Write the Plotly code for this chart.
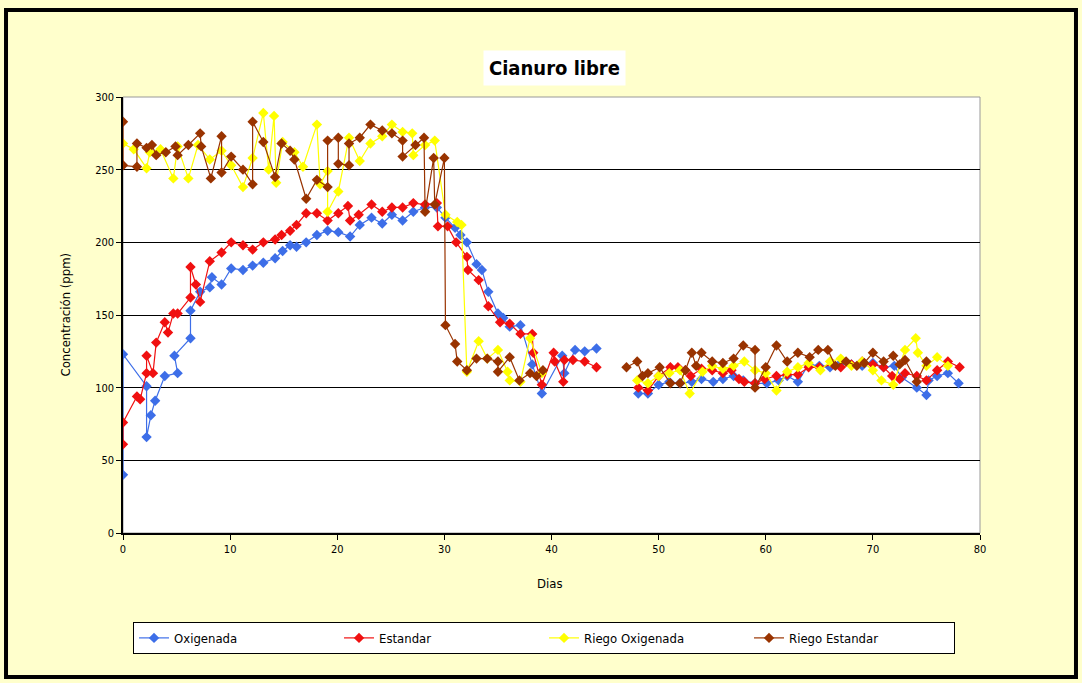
import plotly.graph_objects as go

# Oxigenada (blue)
ox_dias = [0, 0, 2.2, 2.2, 2.6, 3.0, 3.9, 5.1, 4.8, 6.3, 6.3, 7.2, 8.1, 8.3, 9.2, 10.1, 11.2, 12.1, 13.1, 14.2,
           14.9, 15.6, 16.2, 17.1, 18.1, 19.1, 20.1, 21.2, 22.1, 23.2, 24.2, 25.1, 26.1, 27.1, 28.2, 29.3, 30.1, 31.0, 31.5, 32.1,
           33.0, 33.5, 34.1, 35.0, 35.5, 36.1, 37.1, 38.2, 39.1, 41.0, 41.2, 42.2, 43.1, 44.2, None,
           48.1, 49.0, 50.0, 51.0, 52.0, 53.1, 54.0, 55.1, 56.0, 57.0, 57.9, 59.0, 60.1, 61.2, 62.0, 63.0, 64.0, 65.0, 66.0, 67.0,
           68.0, 69.0, 70.0, 71.0, 72.0, 72.7, 74.1, 75.0, 75.2, 76.0, 77.0, 78.0]
ox_ppm = [40, 123, 101, 66, 81, 91, 108, 110, 122, 134, 153, 166, 169, 176, 171, 182, 181, 184, 186, 189,
          194, 198, 197, 200, 205, 208, 207, 204, 212, 217, 213, 219, 215, 221, 224, 224, 217, 210, 205, 200,
          185, 181, 166, 151, 148, 142, 143, 116, 96, 122, 110, 126, 125, 127, None,
          96, 96, 102, 104, 103, 104, 106, 104, 106, 108, 105, 103, 103, 105, 108, 104, 116, 115, 114, 117,
          116, 115, 117, 114, 115, 107, 100, 95, 105, 108, 110, 103]

# Estandar (red)
est_dias = [0, 0, 1.3, 1.6, 2.2, 2.2, 2.8, 3.1, 3.9, 4.2, 4.7, 5.1, 6.3, 6.3, 6.8, 7.2, 8.1, 9.2, 10.1, 11.2,
            12.1, 13.1, 14.2, 14.8, 15.6, 16.2, 17.1, 18.1, 19.1, 20.1, 21.0, 21.2, 22.0, 23.2, 24.2, 25.1, 26.1, 27.1, 28.2, 29.3,
            29.4, 30.3, 31.1, 32.1, 32.2, 33.2, 34.1, 35.2, 36.1, 37.1, 38.2, 38.3, 39.1, 40.2, 40.3, 41.1, 41.2, 42.0, 43.1, 44.2, None,
            48.1, 49.0, 50.0, 51.1, 51.8, 52.5, 53.0, 54.0, 55.0, 56.0, 56.8, 57.5, 58.0, 59.0, 59.9, 61.0, 62.0, 63.0, 64.0, 65.0,
            66.3, 67.0, 68.0, 69.0, 70.0, 71.0, 71.8, 72.5, 73.0, 74.1, 75.0, 76.0, 77.0, 78.1]
est_ppm = [61, 76, 94, 92, 110, 122, 110, 131, 145, 138, 151, 151, 162, 183, 171, 159, 187, 193, 200, 198,
           195, 200, 202, 205, 208, 212, 220, 220, 215, 220, 225, 215, 219, 226, 221, 224, 224, 227, 226, 227,
           211, 211, 200, 190, 181, 174, 156, 145, 144, 137, 137, 124, 102, 124, 118, 104, 119, 119, 118, 114, None,
           100, 98, 108, 114, 114, 112, 108, 113, 112, 110, 112, 106, 104, 103, 106, 108, 109, 109, 114, 114,
           116, 114, 116, 118, 116, 114, 108, 106, 110, 108, 105, 112, 118, 114]

# Riego Oxigenada (yellow)
rox_dias = [0, 1.0, 2.2, 2.5, 3.5, 4.7, 5.1, 6.1, 7.0, 8.1, 9.2, 10.1, 11.2, 12.1, 13.1, 13.6, 14.1, 14.3, 14.9, 16.0,
            16.8, 18.1, 18.4, 19.1, 19.1, 20.1, 21.1, 22.1, 23.1, 24.2, 25.1, 26.1, 27.0, 27.1, 28.2, 29.1, 30.1, 31.2, 31.6, 32.1,
            33.2, 34.0, 35.0, 35.9, 36.1, 37.1, 38.0, 39.1, None,
            48.0, 49.0, 50.0, 51.0, 52.0, 52.9, 54.1, 55.0, 56.0, 57.0, 58.0, 59.0, 60.0, 61.0, 62.0, 63.0, 64.0, 65.1, 66.0, 67.0,
            68.0, 69.0, 70.0, 70.8, 71.9, 73.0, 74.0, 74.2, 75.0, 76.0, 77.0]
rox_ppm = [268, 264, 251, 262, 264, 244, 266, 244, 267, 257, 263, 253, 238, 258, 289, 250, 287, 241, 269, 262,
           252, 281, 240, 249, 221, 235, 272, 256, 268, 273, 281, 276, 275, 260, 267, 270, 219, 214, 212, 111,
           132, 120, 126, 111, 105, 104, 134, 110, None,
           105, 103, 108, 110, 112, 96, 111, 115, 113, 115, 118, 112, 110, 98, 111, 114, 117, 112, 118, 120,
           115, 118, 112, 105, 102, 126, 134, 124, 115, 121, 115]

# Riego Estandar (brown)
rest_dias = [0, 0, 1.3, 1.3, 2.2, 2.7, 3.1, 4.0, 4.9, 5.1, 6.1, 7.2, 7.3, 8.2, 9.2, 9.2, 10.1, 11.2, 12.1, 12.1,
             13.1, 14.2, 14.8, 15.6, 16.0, 17.1, 18.1, 19.1, 19.1, 20.1, 20.1, 21.1, 21.1, 22.1, 23.1, 24.2, 25.1, 26.1, 26.1, 27.3,
             28.1, 28.2, 29.0, 29.1, 30.0, 30.1, 31.0, 31.2, 32.1, 33.0, 34.0, 35.0, 35.0, 36.1, 37.0, 38.0, 38.6, 39.2, None,
             47.0, 48.0, 48.5, 49.0, 50.1, 51.1, 52.0, 52.5, 53.1, 53.5, 54.0, 55.0, 56.0, 57.0, 57.9, 59.0, 59.0, 60.0, 61.0, 62.0,
             63.0, 64.1, 64.9, 65.8, 66.5, 67.5, 68.5, 69.2, 70.0, 71.0, 71.9, 72.5, 73.0, 74.1, 75.0]
rest_ppm = [283, 253, 252, 268, 265, 267, 260, 262, 266, 260, 267, 275, 266, 244, 273, 248, 259, 250, 240, 283,
            269, 245, 268, 263, 257, 230, 243, 238, 270, 272, 254, 253, 268, 272, 281, 277, 275, 270, 259, 267,
            272, 221, 258, 226, 258, 143, 130, 118, 112, 120, 120, 118, 111, 121, 105, 110, 108, 112, None,
            114, 118, 108, 110, 114, 103, 103, 112, 124, 115, 124, 118, 117, 120, 129, 126, 100, 114, 129, 118,
            124, 121, 126, 126, 115, 118, 115, 117, 124, 118, 122, 116, 119, 104, 118]

series = [
    ("Oxigenada", ox_dias, ox_ppm, "#3D6EE8"),
    ("Estandar", est_dias, est_ppm, "#F01010"),
    ("Riego Oxigenada", rox_dias, rox_ppm, "#FFFF00"),
    ("Riego Estandar", rest_dias, rest_ppm, "#993300"),
]

FONT = "DejaVu Sans Condensed, Liberation Sans Narrow, Arial Narrow, sans-serif"

fig = go.Figure()
for name, xs, ys, color in series:
    fig.add_trace(go.Scatter(
        x=xs, y=ys, name=name, mode="lines+markers",
        line=dict(color=color, width=1.2),
        marker=dict(symbol="diamond", size=8, color=color),
        connectgaps=False,
    ))

fig.update_layout(
    width=1082, height=683,
    margin=dict(l=123, r=102, t=97, b=150),
    paper_bgcolor="#FFFFCC",
    plot_bgcolor="white",
    font=dict(family=FONT, size=11, color="black"),
    showlegend=True,
    legend=dict(
        orientation="h", x=0.0117, y=-0.204, xanchor="left", yanchor="top",
        bgcolor="white", bordercolor="black", borderwidth=1,
        font=dict(family=FONT, size=13),
        entrywidth=160, entrywidthmode="pixels",
    ),
    xaxis=dict(
        range=[0, 80], dtick=10, tick0=0, showgrid=False, zeroline=False,
        showline=True, linecolor="black", linewidth=1.5,
        ticks="outside", ticklen=5, tickcolor="black",
        tickfont=dict(family=FONT, size=11),
    ),
    yaxis=dict(
        range=[0, 300], dtick=50, tick0=0, showgrid=True, gridcolor="black", gridwidth=1.2,
        zeroline=False, showline=True, linecolor="black", linewidth=1.5,
        ticks="outside", ticklen=5, tickcolor="black",
        tickfont=dict(family=FONT, size=11),
    ),
    shapes=[
        dict(type="rect", xref="paper", yref="paper", x0=0, x1=1, y0=0, y1=1,
             line=dict(color="#999999", width=1), layer="below"),
        dict(type="rect", xref="paper", yref="paper", x0=-0.1365, x1=1.112, y0=-0.330, y1=1.1995,
             line=dict(color="black", width=4)),
    ],
    annotations=[
        dict(text="<b>Cianuro libre</b>", xref="paper", yref="paper", x=0.504, y=1.108,
             showarrow=False, font=dict(family=FONT, size=20), bgcolor="white", borderpad=5),
        dict(text="Dias", xref="paper", yref="paper", x=0.498, y=-0.1376,
             showarrow=False, font=dict(family=FONT, size=13)),
        dict(text="Concentración (ppm)", xref="paper", yref="paper", x=-0.0793, y=0.5,
             showarrow=False, textangle=-90, font=dict(family=FONT, size=13)),
    ],
)

fig.write_html("out.html", config={"displayModeBar": False},
               post_script="document.body.style.margin='0';")
